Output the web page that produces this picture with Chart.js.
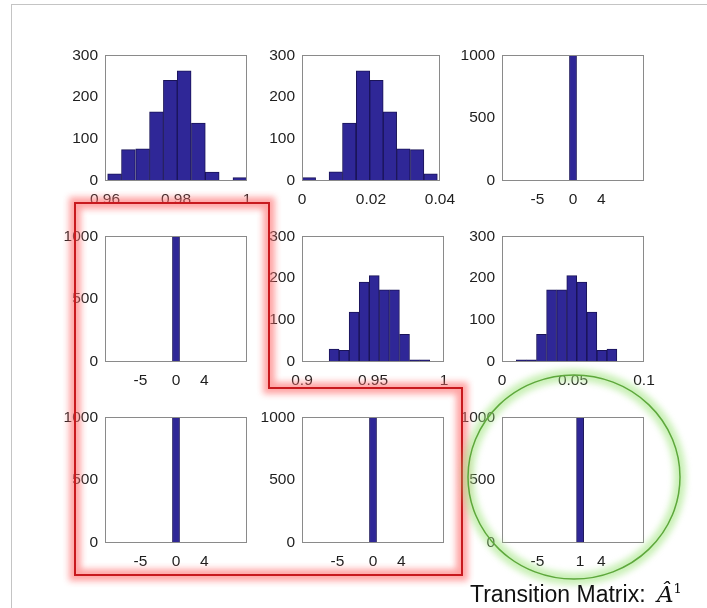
<!DOCTYPE html>
<html>
<head>
<meta charset="utf-8">
<script src="https://cdn.jsdelivr.net/npm/chart.js"></script>
<style>
  body { margin: 0; background: #fff; }
  #page { position: relative; width: 707px; height: 608px; overflow: hidden; font-family: "Liberation Sans", Arial, sans-serif; }
  #frame { position: absolute; left: 11px; top: 4px; width: 700px; height: 610px; border-top: 1px solid #c4c4c4; border-left: 1px solid #c4c4c4; }
  canvas.panel { position: absolute; }
  #marks { position: absolute; left: 0; top: 0; pointer-events: none; }
  #caption { position: absolute; left: 470px; top: 577px; font-size: 23px; line-height: 23px; color: #111; white-space: nowrap; }
  #caption .hat { font-family: "DejaVu Serif", "Liberation Serif", serif; font-style: italic; margin-left: 5px; }
  #caption sup { font-family: "DejaVu Serif", serif; font-size: 13px; vertical-align: 9px; }
</style>
</head>
<body>
<div id="page">
  <div id="frame"></div>
  <canvas class="panel" id="p11"></canvas>
  <canvas class="panel" id="p12"></canvas>
  <canvas class="panel" id="p13"></canvas>
  <canvas class="panel" id="p21"></canvas>
  <canvas class="panel" id="p22"></canvas>
  <canvas class="panel" id="p23"></canvas>
  <canvas class="panel" id="p31"></canvas>
  <canvas class="panel" id="p32"></canvas>
  <canvas class="panel" id="p33"></canvas>
  <svg id="marks" width="707" height="608">
    <defs>
      <filter id="soft" x="-20%" y="-20%" width="140%" height="140%">
        <feGaussianBlur stdDeviation="3"/>
      </filter>
    </defs>
    <path d="M75,203 H269 V388 H462 V575 H75 Z" fill="none" stroke="#ff6a6a" stroke-width="12" opacity="0.6" filter="url(#soft)"/>
    <path d="M75,203 H269 V388 H462 V575 H75 Z" fill="none" stroke="#c8191e" stroke-width="2"/>
    <ellipse cx="574" cy="477" rx="106" ry="102" fill="none" stroke="#9de47a" stroke-width="12" opacity="0.55" filter="url(#soft)"/>
    <ellipse cx="574" cy="477" rx="106" ry="102" fill="none" stroke="#5ea83c" stroke-width="1.5"/>
  </svg>
  <div id="caption">Transition Matrix: <span class="hat">Â</span><sup>1</sup></div>
</div>
<script>
// bin centres and counts
const binsA11 = [0.9627, 0.9666, 0.9706, 0.9745, 0.9784, 0.9823, 0.9863, 0.9902, 0.9941, 0.9980];
const countsA11 = [17, 75, 77, 165, 240, 263, 138, 21, 0, 8];
const binsA12 = [0.0020, 0.0059, 0.0098, 0.0137, 0.0177, 0.0216, 0.0255, 0.0294, 0.0334, 0.0373];
const countsA12 = [8, 0, 22, 138, 263, 240, 165, 77, 75, 17];
const binsA22 = [0.9226, 0.9297, 0.9367, 0.9438, 0.9509, 0.9580, 0.9651, 0.9722, 0.9793, 0.9864];
const countsA22 = [31, 28, 119, 191, 206, 172, 172, 66, 5, 5];
const binsA23 = [0.0136, 0.0207, 0.0278, 0.0349, 0.0420, 0.0491, 0.0562, 0.0633, 0.0704, 0.0774];
const countsA23 = [5, 5, 66, 172, 172, 206, 191, 119, 28, 31];
const binsZero = [-5, -4, -3, -2, -1, 0, 1, 2, 3, 4];
const countsZero = [0, 0, 0, 0, 0, 1000, 0, 0, 0, 0];
const binsOne = [-4, -3, -2, -1, 0, 1, 2, 3, 4, 5];
const countsOne = [0, 0, 0, 0, 0, 1000, 0, 0, 0, 0];

// tick values and labels
const xTicksA11 = [0.96, 0.98, 1];
const xLabelsA11 = ['0.96', '0.98', '1'];
const xTicksA12 = [0, 0.02, 0.04];
const xLabelsA12 = ['0', '0.02', '0.04'];
const xTicksA22 = [0.9, 0.95, 1];
const xLabelsA22 = ['0.9', '0.95', '1'];
const xTicksA23 = [0, 0.05, 0.1];
const xLabelsA23 = ['0', '0.05', '0.1'];
const xTicksZero = [-5, 0, 4];
const xLabelsZero = ['-5', '0', '4'];
const xTicksOne = [-5, 1, 4];
const xLabelsOne = ['-5', '1', '4'];
const yTicksHist = [0, 100, 200, 300];
const yTicksSpike = [0, 500, 1000];

const BAR = '#2f2797';
const EDGE = '#1a1458';
const AXIS_W = 45, AXIS_H = 32, PAD_T = 12, PAD_R = 20;
const PLOT_W = 142, PLOT_H = 130;

const panels = [
  { id: 'p11', bins: binsA11, counts: countsA11, xMin: 0.96, xMax: 1, xTicks: xTicksA11, xLabels: xLabelsA11, yMax: 300, yTicks: yTicksHist, left: 105, top: 51 },
  { id: 'p12', bins: binsA12, counts: countsA12, xMin: 0, xMax: 0.04, xTicks: xTicksA12, xLabels: xLabelsA12, yMax: 300, yTicks: yTicksHist, left: 302, top: 51 },
  { id: 'p13', bins: binsZero, counts: countsZero, xMin: -10, xMax: 10, xTicks: xTicksZero, xLabels: xLabelsZero, yMax: 1000, yTicks: yTicksSpike, left: 502, top: 51 },
  { id: 'p21', bins: binsZero, counts: countsZero, xMin: -10, xMax: 10, xTicks: xTicksZero, xLabels: xLabelsZero, yMax: 1000, yTicks: yTicksSpike, left: 105, top: 232 },
  { id: 'p22', bins: binsA22, counts: countsA22, xMin: 0.9, xMax: 1, xTicks: xTicksA22, xLabels: xLabelsA22, yMax: 300, yTicks: yTicksHist, left: 302, top: 232 },
  { id: 'p23', bins: binsA23, counts: countsA23, xMin: 0, xMax: 0.1, xTicks: xTicksA23, xLabels: xLabelsA23, yMax: 300, yTicks: yTicksHist, left: 502, top: 232 },
  { id: 'p31', bins: binsZero, counts: countsZero, xMin: -10, xMax: 10, xTicks: xTicksZero, xLabels: xLabelsZero, yMax: 1000, yTicks: yTicksSpike, left: 105, top: 413 },
  { id: 'p32', bins: binsZero, counts: countsZero, xMin: -10, xMax: 10, xTicks: xTicksZero, xLabels: xLabelsZero, yMax: 1000, yTicks: yTicksSpike, left: 302, top: 413 },
  { id: 'p33', bins: binsOne, counts: countsOne, xMin: -10, xMax: 10, xTicks: xTicksOne, xLabels: xLabelsOne, yMax: 1000, yTicks: yTicksSpike, left: 502, top: 413 }
];

// matlab style box round the plot area
const boxPlugin = {
  id: 'box',
  afterDatasetsDraw(chart) {
    const a = chart.chartArea;
    const c = chart.ctx;
    c.save();
    c.strokeStyle = '#8a8a8a';
    c.lineWidth = 1;
    c.strokeRect(Math.round(a.left) + 0.5, Math.round(a.top) + 0.5, Math.round(a.right - a.left) - 1, Math.round(a.bottom - a.top) - 1);
    c.restore();
  }
};

const tickFont = { family: '"Liberation Sans", Arial, sans-serif', size: 15.5 };

panels.forEach(p => {
  const cv = document.getElementById(p.id);
  cv.width = AXIS_W + PLOT_W + PAD_R;
  cv.height = PAD_T + PLOT_H + AXIS_H;
  cv.style.left = (p.left - AXIS_W) + 'px';
  cv.style.top = (p.top - PAD_T) + 'px';

  new Chart(cv, {
    type: 'bar',
    data: {
      datasets: [{
        data: p.bins.map((b, i) => ({ x: b, y: p.counts[i] })),
        backgroundColor: BAR,
        borderColor: EDGE,
        borderWidth: 1,
        barPercentage: 1,
        categoryPercentage: 1
      }]
    },
    options: {
      responsive: false,
      animation: false,
      layout: { padding: { top: PAD_T, right: PAD_R, left: 0, bottom: 0 } },
      scales: {
        x: {
          type: 'linear',
          offset: false,
          min: p.xMin,
          max: p.xMax,
          grid: { display: false, drawTicks: false },
          border: { display: false },
          afterBuildTicks: s => { s.ticks = p.xTicks.map(v => ({ value: v })); },
          afterFit: s => { s.height = AXIS_H; },
          ticks: {
            padding: 9,
            color: '#1e1e1e',
            font: tickFont,
            maxRotation: 0,
            callback: (v, i) => p.xLabels[i]
          }
        },
        y: {
          min: 0,
          max: p.yMax,
          grid: { display: false, drawTicks: false },
          border: { display: false },
          afterBuildTicks: s => { s.ticks = p.yTicks.map(v => ({ value: v })); },
          afterFit: s => { s.width = AXIS_W; },
          ticks: {
            padding: 7,
            color: '#1e1e1e',
            font: tickFont,
            callback: v => String(v)
          }
        }
      },
      plugins: {
        legend: { display: false },
        tooltip: { enabled: false }
      }
    },
    plugins: [boxPlugin]
  });
});
</script>
</body>
</html>
